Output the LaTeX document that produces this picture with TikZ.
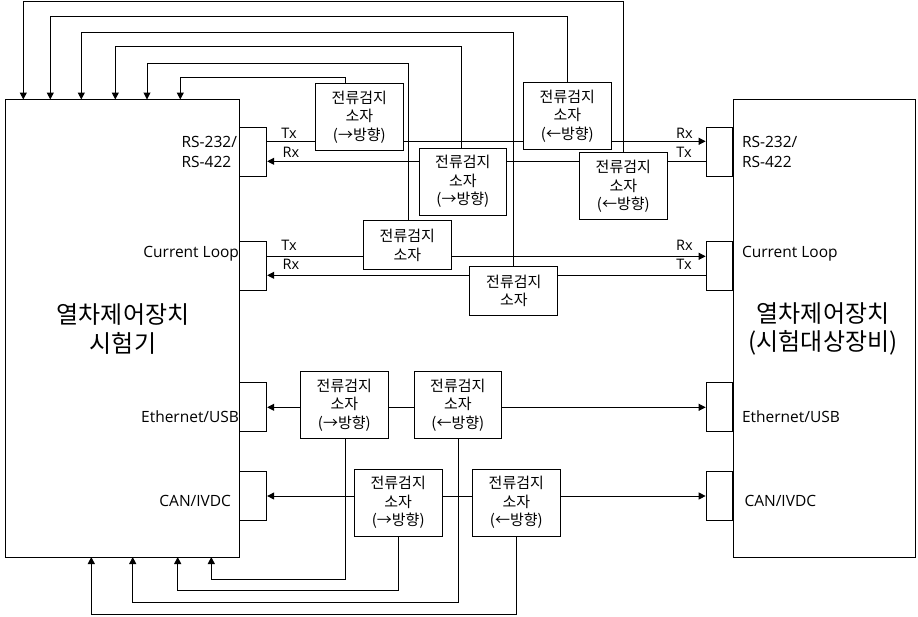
\documentclass[tikz,border=0pt]{standalone}
\usepackage{fontspec}
\setmainfont{Open Sans}
\newfontfamily\kr{Noto Sans CJK KR}
\usetikzlibrary{arrows.meta}
\begin{document}
\begin{tikzpicture}[x=1pt,y=-1pt,
 line width=1pt,
 arr/.style={-{Triangle[length=7pt,width=7pt]}},
 sensor/.style={draw, fill=white, minimum width=88pt, minimum height=67pt, inner sep=0pt, align=center, font=\kr\fontsize{15}{18.5}\selectfont},
 sensortwo/.style={sensor, minimum height=49pt},
 port/.style={draw, minimum width=26.7pt, minimum height=49pt, inner sep=0pt},
 dev/.style={draw, inner sep=0pt, minimum height=457.5pt},
 lbl/.style={font=\fontsize{15.5}{19.5}\selectfont, inner sep=0pt, align=left},
 sig/.style={font=\fontsize{14.5}{16}\selectfont, inner sep=0pt},
 big/.style={font=\kr\fontsize{24}{28.5}\selectfont, align=center, inner sep=0pt}]
\useasboundingbox (0,0) rectangle (918,616);

% devices
\node[dev, minimum width=234.5pt] (L) at (122.25,328.25) {};
\node[dev, minimum width=182pt] (R) at (824,328.25) {};
\node[big] (Lt) at (123,329) {열차제어장치\\시험기};
\node[big] (Rt) at (823,329) {열차제어장치\\(시험대상장비)};

% ports
\node[port] (lRS) at (253.3,151.7) {};
\node[port] (lCL) at (253.3,266.2) {};
\node[port] (lEth) at (253.3,407.2) {};
\node[port] (lCAN) at (253.3,495.8) {};
\node[port] (rRS) at (719.5,151.7) {};
\node[port] (rCL) at (719.5,266.2) {};
\node[port] (rEth) at (719.5,407.2) {};
\node[port] (rCAN) at (719.5,495.8) {};

% port labels
\node[lbl, anchor=east] (lRSt) at (237.5,152) {RS-232/\\RS-422};
\node[lbl, anchor=east] (lCLt) at (239.5,254) {Current Loop};
\node[lbl, anchor=east] (lEtht) at (239.5,416.5) {Ethernet/USB};
\node[lbl, anchor=east] (lCANt) at (231.5,500.5) {CAN/IVDC};
\node[lbl, anchor=west] (rRSt) at (741.5,152) {RS-232/\\RS-422};
\node[lbl, anchor=west] (rCLt) at (741.5,254) {Current Loop};
\node[lbl, anchor=west] (rEtht) at (741.5,416.5) {Ethernet/USB};
\node[lbl, anchor=west] (rCANt) at (744,500.5) {CAN/IVDC};

% Tx/Rx labels
\node[sig] (t1) at (289,133.5) {Tx};
\node[sig] (t2) at (291,152.5) {Rx};
\node[sig] (t3) at (289,245) {Tx};
\node[sig] (t4) at (291,264) {Rx};
\node[sig] (t5) at (684.5,133.5) {Rx};
\node[sig] (t6) at (684,152.5) {Tx};
\node[sig] (t7) at (684.5,245.5) {Rx};
\node[sig] (t8) at (684,264) {Tx};

% sensors
\node[sensor] (A) at (359.3,116.8) {전류검지\\소자\\(→방향)};
\node[sensor] (B) at (567.3,115.8) {전류검지\\소자\\(←방향)};
\node[sensor, minimum width=87pt] (C) at (462.8,181.7) {전류검지\\소자\\(→방향)};
\node[sensor] (D) at (623.3,186.3) {전류검지\\소자\\(←방향)};
\node[sensortwo] (E) at (407.3,245.3) {전류검지\\소자};
\node[sensortwo] (F) at (513.8,291) {전류검지\\소자};
\node[sensor] (G) at (344.3,404.8) {전류검지\\소자\\(→방향)};
\node[sensor, minimum width=87pt] (H) at (457.8,404.8) {전류검지\\소자\\(←방향)};
\node[sensor] (I) at (398.2,502.7) {전류검지\\소자\\(→방향)};
\node[sensor] (J) at (516.3,502.7) {전류검지\\소자\\(←방향)};

% signal levels
\coordinate (yRSt) at (0,141.3);
\coordinate (yRSr) at (0,161.3);
\coordinate (yCLt) at (0,256.3);
\coordinate (yCLr) at (0,275.3);
\coordinate (yEth) at (0,407.3);
\coordinate (yCAN) at (0,496);

% RS-232 lines
\draw (lRS.east |- yRSt) -- (A.west |- yRSt);
\draw (A.east |- yRSt) -- (B.west |- yRSt);
\draw[arr] (B.east |- yRSt) -- (rRS.west |- yRSt);
\draw (rRS.west |- yRSr) -- (D.east |- yRSr);
\draw (D.west |- yRSr) -- (C.east |- yRSr);
\draw[arr] (C.west |- yRSr) -- (lRS.east |- yRSr);
% Current loop
\draw (lCL.east |- yCLt) -- (E.west |- yCLt);
\draw[arr] (E.east |- yCLt) -- (rCL.west |- yCLt);
\draw (rCL.west |- yCLr) -- (F.east |- yCLr);
\draw[arr] (F.west |- yCLr) -- (lCL.east |- yCLr);
% Ethernet
\draw[arr] (G.west |- yEth) -- (lEth.east |- yEth);
\draw (G.east |- yEth) -- (H.west |- yEth);
\draw[arr] (H.east |- yEth) -- (rEth.west |- yEth);
% CAN
\draw[arr] (I.west |- yCAN) -- (lCAN.east |- yCAN);
\draw (I.east |- yCAN) -- (J.west |- yCAN);
\draw[arr] (J.east |- yCAN) -- (rCAN.west |- yCAN);

% feedback corners and targets (top)
\coordinate (cD) at (23.3,1);    \coordinate (tD) at (23.3,99.5);
\coordinate (cB) at (50.3,16.3); \coordinate (tB) at (50.3,99.5);
\coordinate (cF) at (81.3,32.3); \coordinate (tF) at (81.3,99.5);
\coordinate (cC) at (115.3,46.7); \coordinate (tC) at (115.3,99.5);
\coordinate (cE) at (147,63.3);  \coordinate (tE) at (147,99.5);
\coordinate (cA) at (180.3,77.7); \coordinate (tA) at (180.3,99.5);
\draw[arr] ([xshift=0.4pt]D.north) |- (cD) -- (tD);
\draw[arr] (B.north) |- (cB) -- (tB);
\draw[arr] (F.north) |- (cF) -- (tF);
\draw[arr] ([xshift=-1.8pt]C.north) |- (cC) -- (tC);
\draw[arr] ([xshift=1pt]E.north) |- (cE) -- (tE);
\draw[arr] ([xshift=-13.6pt]A.north) |- (cA) -- (tA);

% feedback (bottom)
\coordinate (cG) at (211.3,579.3); \coordinate (bG) at (211.3,557);
\coordinate (cI) at (177.7,590);   \coordinate (bI) at (177.7,557);
\coordinate (cH) at (132.7,602.7); \coordinate (bH) at (132.7,557);
\coordinate (cJ) at (91.3,614.7);  \coordinate (bJ) at (91.3,557);
\draw[arr] ([xshift=1pt]G.south) |- (cG) -- (bG);
\draw[arr] (I.south) |- (cI) -- (bI);
\draw[arr] ([xshift=0.5pt]H.south) |- (cH) -- (bH);
\draw[arr] (J.south) |- (cJ) -- (bJ);
\end{tikzpicture}
\end{document}
